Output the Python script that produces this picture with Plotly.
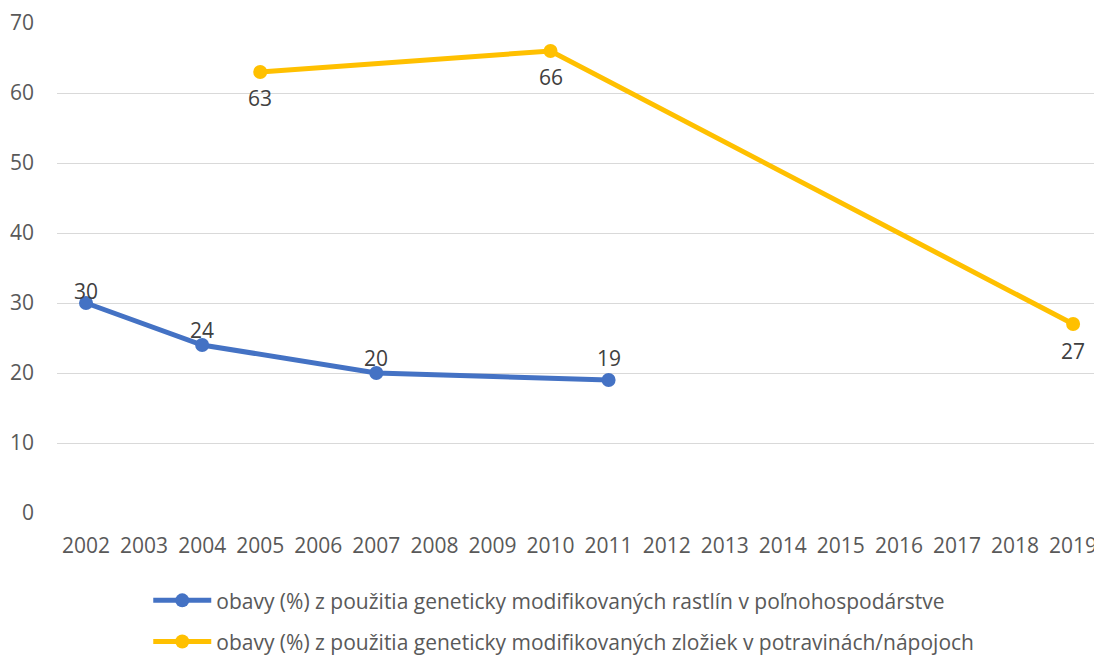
import plotly.graph_objects as go

years = [str(y) for y in range(2002, 2020)]

rastliny_years = ["2002", "2004", "2007", "2011"]
rastliny_vals = [30, 24, 20, 19]

zlozky_years = ["2005", "2010", "2019"]
zlozky_vals = [63, 66, 27]

name_rastliny = "obavy (%) z použitia geneticky modifikovaných rastlín v poľnohospodárstve"
name_zlozky = "obavy (%) z použitia geneticky modifikovaných zložiek v potravinách/nápojoch"

# vertical offsets (px) of the value labels
rastliny_label_shift = [12, 15, 15, 22]
zlozky_label_shift = [-26, -26, -27]

BLUE = "#4472C4"
YELLOW = "#FFC000"
TEXT = "#595959"
LABEL = "#404040"
FONT = "Open Sans"
FS = 21

fig = go.Figure()

fig.add_trace(go.Scatter(
    x=rastliny_years, y=rastliny_vals, name=name_rastliny,
    mode="lines+markers",
    line=dict(color=BLUE, width=5),
    marker=dict(color=BLUE, size=14),
    cliponaxis=False, legend="legend",
))

fig.add_trace(go.Scatter(
    x=zlozky_years, y=zlozky_vals, name=name_zlozky,
    mode="lines+markers",
    line=dict(color=YELLOW, width=5),
    marker=dict(color=YELLOW, size=14),
    cliponaxis=False, legend="legend2",
))

# value labels: above the blue points, below the yellow ones
for x, v, s in zip(rastliny_years, rastliny_vals, rastliny_label_shift):
    fig.add_annotation(x=years.index(x), y=v, xref="x", yref="y",
                       text=str(v), showarrow=False, yshift=s,
                       font=dict(family=FONT, size=FS, color=LABEL))
for x, v, s in zip(zlozky_years, zlozky_vals, zlozky_label_shift):
    fig.add_annotation(x=years.index(x), y=v, xref="x", yref="y",
                       text=str(v), showarrow=False, yshift=s,
                       font=dict(family=FONT, size=FS, color=LABEL))

legend_common = dict(
    orientation="v", xanchor="left", yanchor="middle",
    font=dict(family=FONT, size=FS, color=TEXT),
    itemwidth=58, bgcolor="rgba(0,0,0,0)", borderwidth=0,
)

fig.update_layout(
    width=1094, height=655,
    margin=dict(l=57, r=0, t=23, b=142, autoexpand=False),
    paper_bgcolor="white", plot_bgcolor="white",
    font=dict(family=FONT, size=FS, color=TEXT),
    showlegend=True,
    legend=dict(x=0.088, y=-0.179, **legend_common),
    legend2=dict(x=0.088, y=-0.263, **legend_common),
)

fig.update_xaxes(
    type="category", categoryorder="array", categoryarray=years,
    tickvals=years, ticktext=years,
    range=[-0.5, 17.36],
    showgrid=False, zeroline=False, showline=False, ticks="",
    ticklabelstandoff=18,
    tickfont=dict(family=FONT, size=FS, color=TEXT),
)

fig.update_yaxes(
    range=[0, 70], dtick=10, tick0=0,
    showgrid=True, gridcolor="#D9D9D9", gridwidth=1.3,
    zeroline=False, showline=False, ticks="",
    ticklabelstandoff=22,
    tickfont=dict(family=FONT, size=FS, color=TEXT),
)

fig.write_html("out.html")
